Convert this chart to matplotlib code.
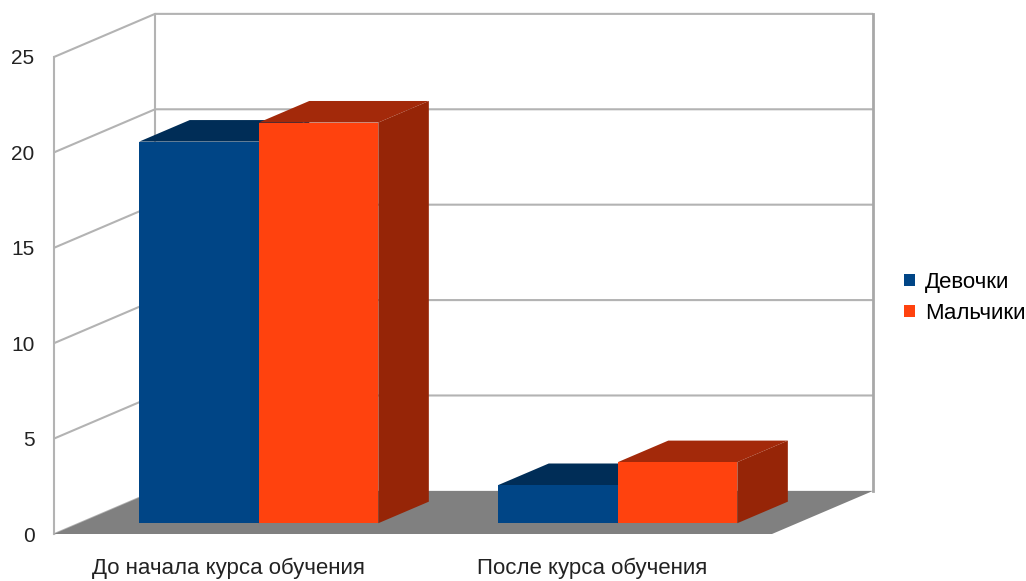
import matplotlib
matplotlib.use('Agg')
import matplotlib.pyplot as plt
import matplotlib.transforms as mtransforms
from matplotlib.patches import Polygon, Patch

plt.rcParams['font.family'] = ['Liberation Sans', 'DejaVu Sans']

categories = ['До начала курса обучения', 'После курса обучения']
series_names = ['Девочки', 'Мальчики']
girls = [20, 2]
boys = [21, 3.2]
yticks = [0, 5, 10, 15, 20, 25]

front_colors = ['#004586', '#ff420e']
top_colors = ['#002d57', '#a3290a']
side_colors = ['#00305f', '#962507']
grid_color = '#b3b3b3'

# oblique depth offset (full depth of the box) in data units
DX = 0.2815
DY = 2.26
BAR_W = 0.333
F0, F1 = 0.25, 0.75  # bar front/back depth as a fraction of the box depth


def depth(x, y, f):
    return (x + f * DX, y + f * DY)


def main():
    fig = plt.figure(figsize=(10.26, 5.81), dpi=100)
    W, H = 1026, 581
    ax = fig.add_axes([54 / W, (H - 534) / H, 718 / W, 477 / H])
    ax.set_xlim(-0.5, 1.5)
    ax.set_ylim(0, 25)
    for s in ax.spines.values():
        s.set_visible(False)
    ymax = yticks[-1]

    # left wall, back wall, floor
    x0, x1 = -0.5, 1.5
    left_wall = Polygon([(x0, 0), (x0, ymax), depth(x0, ymax, 1), depth(x0, 0, 1)],
                        closed=True, facecolor='white', edgecolor='none', clip_on=False, zorder=0)
    ax.add_patch(left_wall)
    floor = Polygon([(x0, 0), (x1, 0), depth(x1, 0, 1), depth(x0, 0, 1)],
                    closed=True, facecolor='#808080', edgecolor='none', clip_on=False, zorder=1)
    ax.add_patch(floor)

    # grid lines
    for v in yticks[1:]:
        ax.plot([x0, x0 + DX, x1 + DX], [v, v + DY, v + DY], color=grid_color,
                lw=1.5, clip_on=False, zorder=0.5, solid_capstyle='butt')
    ax.plot([x0, x0], [0, ymax], color=grid_color, lw=1.5, clip_on=False, zorder=0.5)
    ax.plot([x0 + DX, x0 + DX], [DY, ymax + DY], color=grid_color, lw=1.5, clip_on=False, zorder=0.5)
    ax.plot([x1 + DX, x1 + DX], [DY, ymax + DY], color='#a8a8a8', lw=2, clip_on=False, zorder=0.5)
    ax.plot([x0, x0 + DX], [0, DY], color=grid_color, lw=1.2, clip_on=False, zorder=0.5)

    # bars
    values = [girls, boys]
    z = 2
    for i in range(len(categories)):
        for s, vals in enumerate(values):
            left = i - BAR_W + s * BAR_W
            right = left + BAR_W
            v = vals[i]
            fx, fy = depth(left, 0, F0)
            ax.bar(fx, v, width=BAR_W, bottom=fy, align='edge', color=front_colors[s],
                   clip_on=False, zorder=z + 1)
            top = Polygon([depth(left, v, F0), depth(right, v, F0),
                           depth(right, v, F1), depth(left, v, F1)],
                          closed=True, facecolor=top_colors[s], edgecolor='none',
                          clip_on=False, zorder=z)
            side = Polygon([depth(right, 0, F0), depth(right, v, F0),
                            depth(right, v, F1), depth(right, 0, F1)],
                           closed=True, facecolor=side_colors[s], edgecolor='none',
                           clip_on=False, zorder=z)
            ax.add_patch(top)
            ax.add_patch(side)
            z += 2

    ax.set_yticks(yticks)
    ax.set_xticks(range(len(categories)))
    ax.set_xticklabels(categories)
    ax.tick_params(axis='y', length=0, pad=14, labelsize=15, labelcolor='#222222')
    ax.tick_params(axis='x', length=0, pad=17, labelsize=16, labelcolor='#222222')
    # first category label sits a little left of its slot in the original
    lbl = ax.get_xticklabels()[0]
    lbl.set_transform(lbl.get_transform() + mtransforms.ScaledTranslation(-5 / 100, 0, fig.dpi_scale_trans))

    handles = [Patch(facecolor=c, edgecolor='none') for c in front_colors]
    fig.legend(handles, series_names, loc='center left', bbox_to_anchor=(904 / W, 1 - 298 / H),
               frameon=False, fontsize=16, handlelength=0.5, handleheight=0.5,
               handletextpad=0.45, labelspacing=0.45, borderaxespad=0, borderpad=0)

    fig.savefig('out.png', dpi=100)


if __name__ == '__main__':
    main()
